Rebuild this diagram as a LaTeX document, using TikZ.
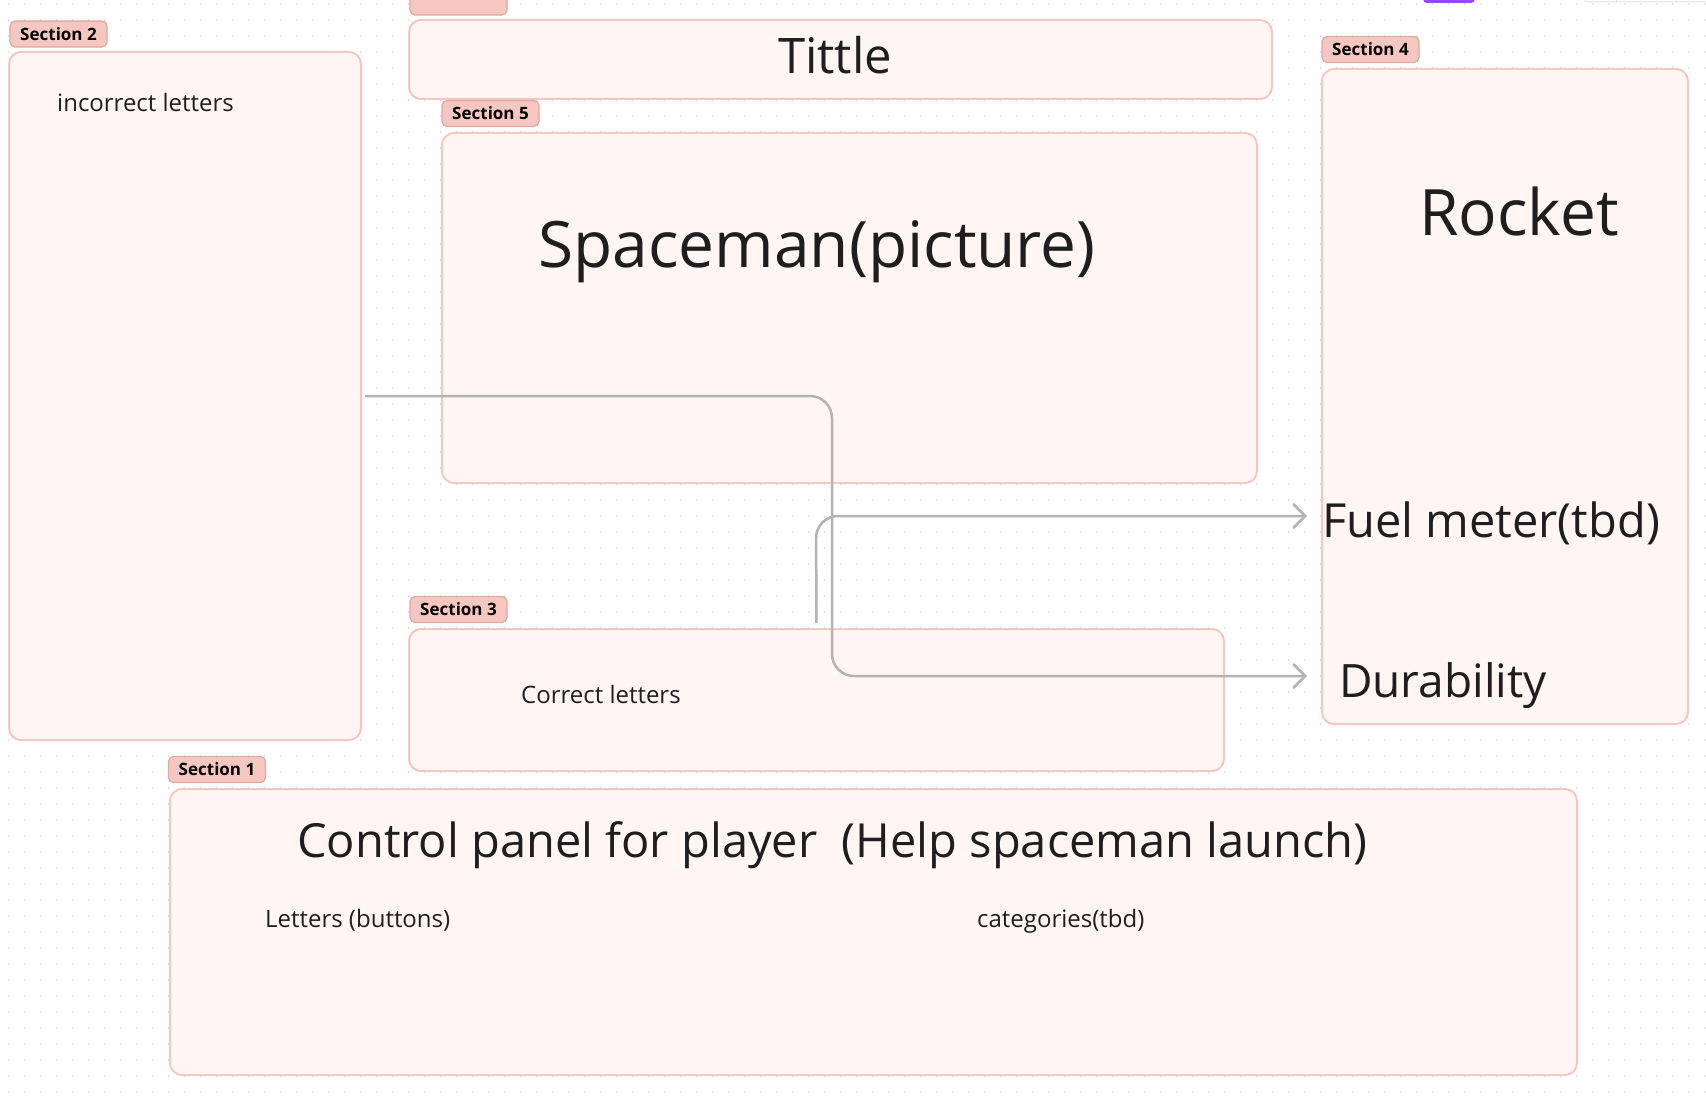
\documentclass[tikz,border=0pt]{standalone}
\usepackage{fontspec}
\setmainfont{Open Sans}
\usetikzlibrary{arrows.meta}
\definecolor{boxfill}{HTML}{FFF5F3}
\definecolor{boxline}{HTML}{F6C6C0}
\definecolor{tagfill}{HTML}{F6C6C1}
\definecolor{tagline}{HTML}{DCA9A3}
\definecolor{ink}{HTML}{1E1E1E}
\definecolor{wirec}{HTML}{B3B3B3}
\definecolor{dotc}{HTML}{DCDCDC}
\definecolor{purp}{HTML}{9747FF}
\begin{document}
\begin{tikzpicture}[x=1pt,y=-1pt,
  panel/.style={draw=boxline, fill=boxfill, line width=2pt, rounded corners=12pt, inner sep=0pt},
  tag/.style={draw=tagline, fill=tagfill, line width=1.2pt, rounded corners=5pt,
    minimum width=97pt, minimum height=26pt, inner sep=0pt,
    font=\fontsize{17}{20}\selectfont\bfseries, text=black},
  wire/.style={draw=wirec, line width=2.5pt, rounded corners=22pt,
    -{Straight Barb[length=12pt,width=24pt]}},
  txt/.style={text=ink, inner sep=0pt},
  dotrow/.style={draw=dotc, line width=2.2pt, line cap=round, dash pattern=on 0pt off 16pt}]
\useasboundingbox (0,0) rectangle (1706,1105);
\begin{scope}
\clip (0,0) rectangle (1706,1105);
\fill[white] (0,0) rectangle (1706,1105);
% dot grid
\foreach \j in {0,...,69}{\draw[dotrow] (8.7,\j*16+4) -- (1710,\j*16+4);}
% top artifacts
\fill[purp, rounded corners=4pt] (1423,-10) rectangle (1475,3);
\draw[black!12, line width=1pt, rounded corners=4pt] (1584,-20) rectangle (1720,2);
\draw[black!12, line width=1pt] (1616,-5) -- (1616,2) (1676,-5) -- (1676,2);
% cropped label above title
\node[tag] (s6) at (458.5,2) {};
\end{scope}

% panels
\node[panel, minimum width=352pt, minimum height=688pt] (s2) at (185,396) {};
\node[panel, minimum width=863pt, minimum height=79pt] (ttlbox) at (840.5,59.5) {};
\node[panel, minimum width=815pt, minimum height=350pt] (s5) at (849.5,308) {};
\node[panel, minimum width=366pt, minimum height=655pt] (s4) at (1505,396.5) {};
\node[panel, minimum width=815pt, minimum height=142pt] (s3) at (816.5,700) {};
\node[panel, minimum width=1407pt, minimum height=286pt] (s1) at (873.5,932) {};

% section tags
\node[tag] (t2) at (58.5,34) {Section 2};
\node[tag] (t5) at (490.5,113.5) {Section 5};
\node[tag] (t4) at (1370.5,49.5) {Section 4};
\node[tag] (t3) at (458.5,609.5) {Section 3};
\node[tag] (t1) at (217,769.5) {Section 1};

% texts
\node[txt, font=\fontsize{49}{59}\selectfont, anchor=base] (ttl) at (835,74) {Tittle};
\node[txt, font=\fontsize{64}{77}\selectfont, anchor=base] (spc) at (817,267) {Spaceman(picture)};
\node[txt, font=\fontsize{64}{76}\selectfont, anchor=base] (rkt) at (1519,235) {Rocket};
\node[txt, font=\fontsize{47}{56}\selectfont, anchor=base west] (fuel) at (1322,537) {Fuel meter(tbd)};
\node[txt, font=\fontsize{46}{55}\selectfont, anchor=base west] (dur) at (1339,697) {Durability};
\node[txt, font=\fontsize{24}{29}\selectfont, anchor=base west] (inc) at (57,112) {incorrect letters};
\node[txt, font=\fontsize{24}{29}\selectfont, anchor=base west] (cor) at (521,703) {Correct letters};
\node[txt, font=\fontsize{47}{56}\selectfont, anchor=base west] (ctl) at (297,857) {Control panel for player\ \ (Help spaceman launch)};
\node[txt, font=\fontsize{24}{29}\selectfont, anchor=base west] (let) at (265,927) {Letters (buttons)};
\node[txt, font=\fontsize{24}{29}\selectfont, anchor=base west] (cat) at (977,927) {categories(tbd)};

% connectors
\coordinate (durin) at (1307,676);
\coordinate (fuelin) at (1307,516);
\draw[wire, shorten <=3pt] (s2.east) -- (832,396) -- (832,676) -- (durin);
\draw[wire, shorten <=5pt] (s3.north) -- (816,516) -- (fuelin);
\end{tikzpicture}
\end{document}
